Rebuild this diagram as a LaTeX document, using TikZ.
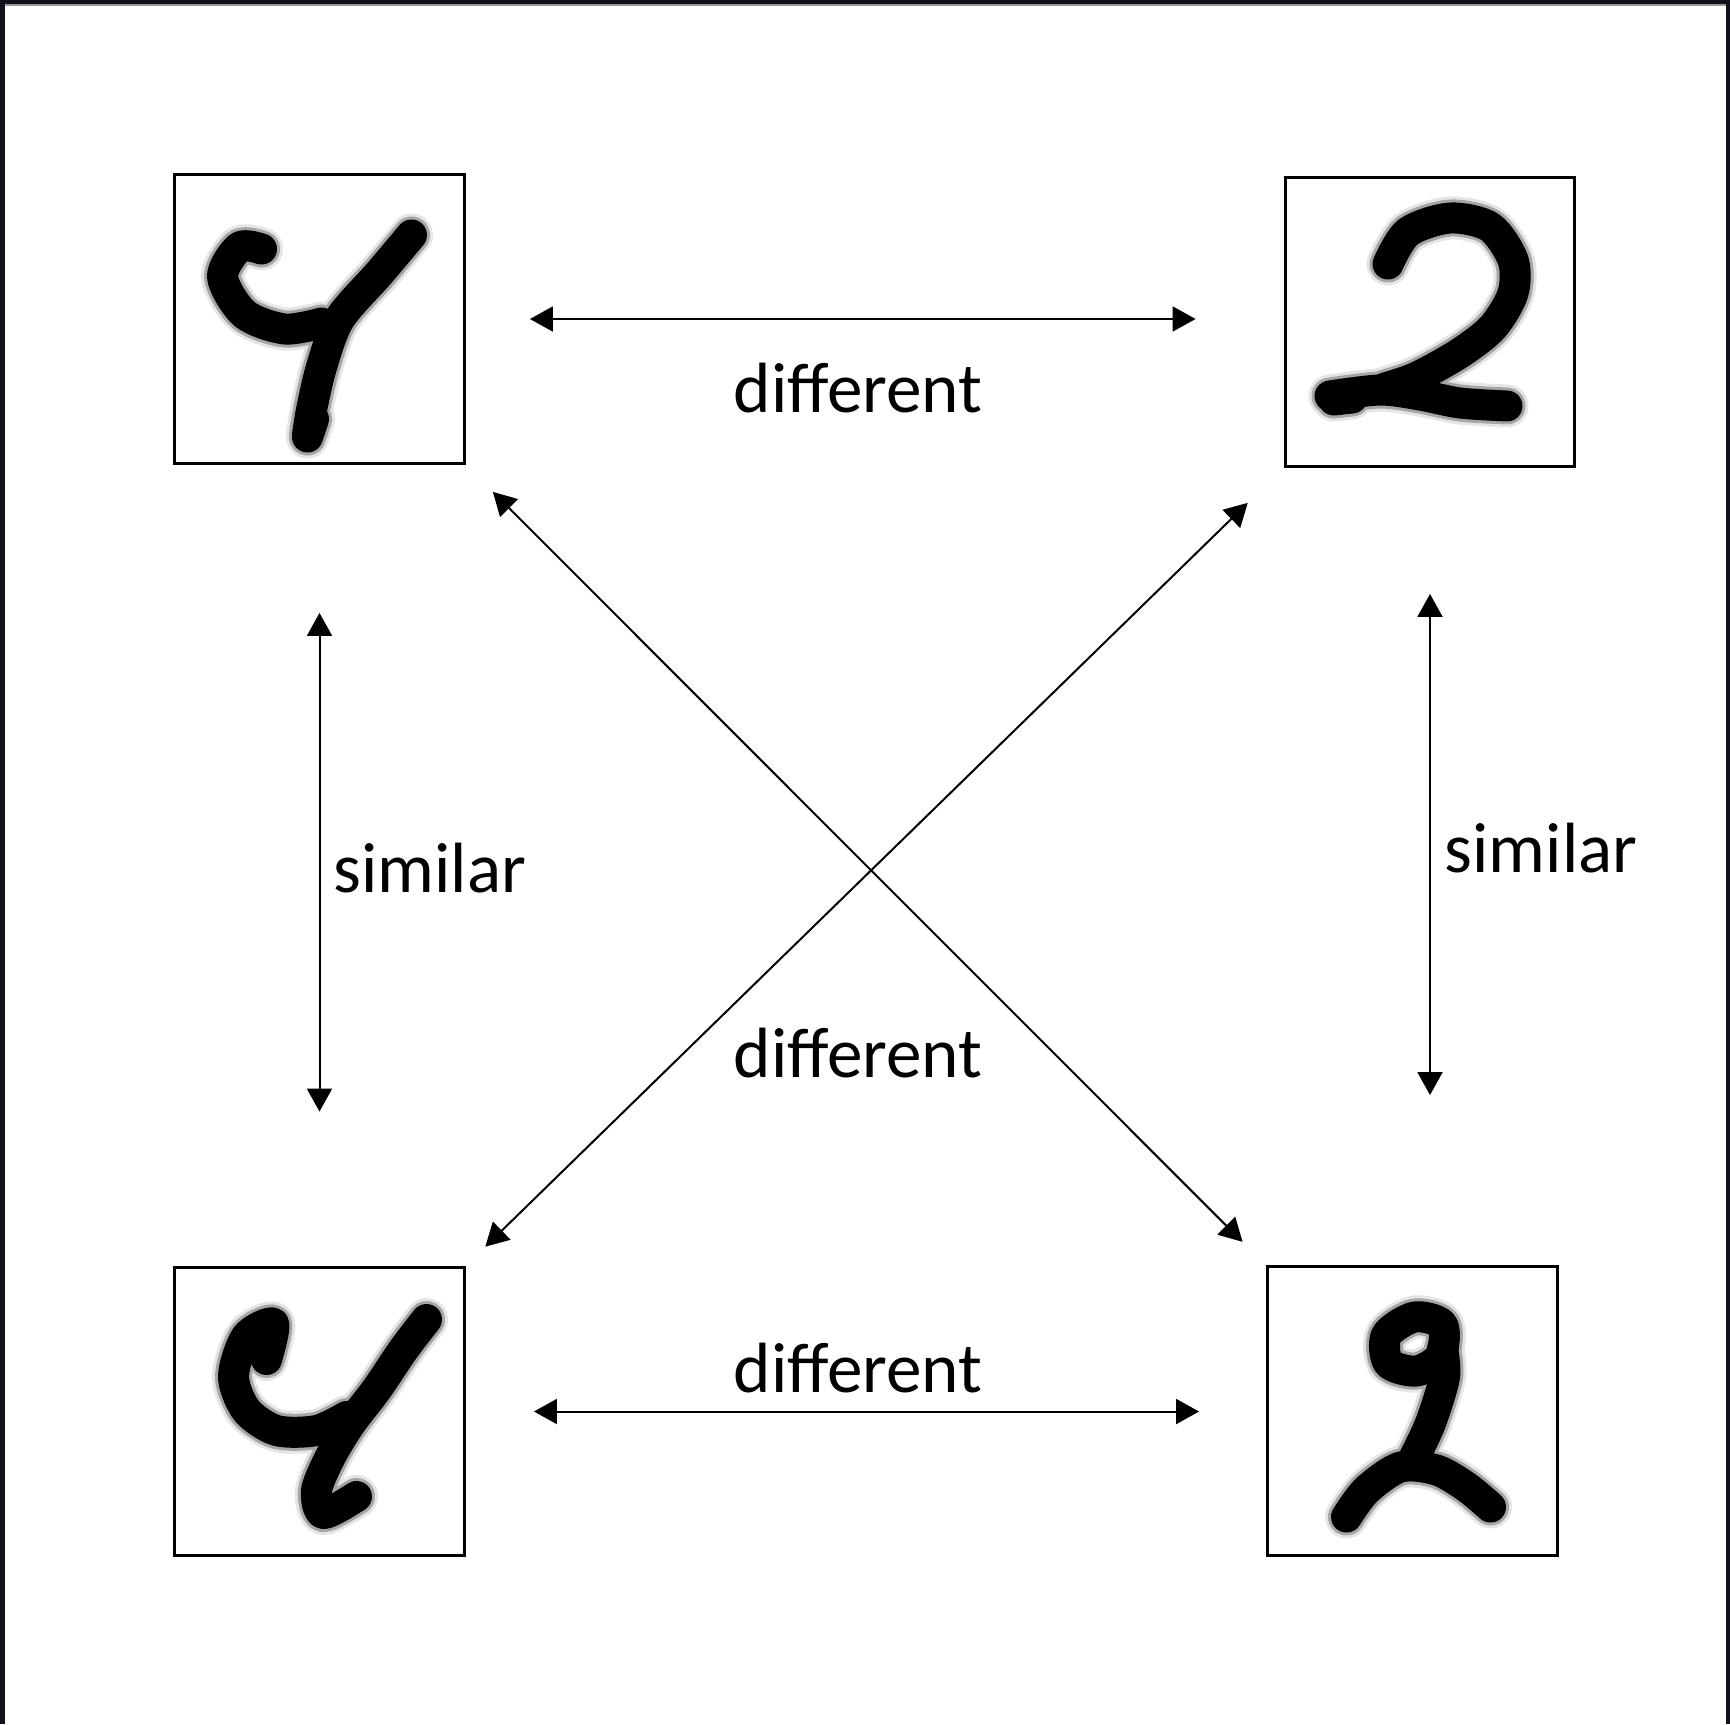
\documentclass[tikz,border=0pt]{standalone}
\usepackage{fontspec}
\setmainfont{Carlito}
\usetikzlibrary{arrows.meta,calc}

\definecolor{framedark}{HTML}{12121C}

\begin{document}
\begin{tikzpicture}[
  x=0.02cm, y=-0.02cm,
  digitbox/.style={draw, line width=0.06cm, minimum width=5.8cm, minimum height=5.78cm, inner sep=0},
  pen/.style={line width=0.62cm, line cap=round, line join=round},
  blurout/.style={line width=0.86cm, line cap=round, line join=round, black!10},
  blurin/.style={line width=0.74cm, line cap=round, line join=round, black!35},
  biarrow/.style={{Triangle[length=0.46cm,width=0.5cm]}-{Triangle[length=0.46cm,width=0.5cm]}, line width=0.04cm},
  lbl/.style={font=\fontsize{40.5}{48}\selectfont, inner sep=0}
]
  \useasboundingbox (0,0) rectangle (1730,1724);
  \fill[white] (0,0) rectangle (1730,1724);
  % screenshot frame
  \fill[framedark] (0,0) rectangle (1730,4);
  \fill[framedark] (0,0) rectangle (5,1724);
  \fill[framedark] (1726,0) rectangle (1730,1724);
  \fill[black!40] (5,4) rectangle (1726,6);

  % digit boxes
  \node[digitbox] (fourA) at (319.5,319) {};
  \node[digitbox] (twoA) at (1430,322) {};
  \node[digitbox] (fourB) at (319.5,1411.5) {};
  \node[digitbox] (twoB) at (1412.5,1411) {};

  % handwritten digits
  \begin{scope}[shift={(fourA.center)}]
    \foreach \s in {blurout,blurin,pen} {
      \draw[\s] plot[smooth] coordinates {(-58,-70) (-80,-72) (-97,-42) (-75,-5) (-35,10) (2,4)};
      \draw[\s] plot[smooth] coordinates {(92,-84) (60,-46) (20,0) (2,48) (-8,91) (-12,116)};
      \draw[\s] (-6,100) -- (-12,118);
    }
  \end{scope}
  \begin{scope}[shift={(twoA.center)}]
    \foreach \s in {blurout,blurin,pen} {
      \draw[\s] plot[smooth] coordinates {(-42,-58) (-22,-90) (20,-104) (60,-95) (83,-62) (83,-29) (63,5) (30,31) (-13,55) (-45,66)};
      \draw[\s] plot[smooth] coordinates {(-100,74) (-50,68) (-10,73) (30,81) (77,84)};
      \draw[\s] (-96,78) -- (-78,76);
    }
  \end{scope}
  \begin{scope}[shift={(fourB.center)}]
    \foreach \s in {blurout,blurin,pen} {
      \draw[\s] plot[smooth] coordinates {(-53,-52) (-46,-88) (-73,-75) (-86,-35) (-73,-1) (-43,19) (-3,19) (27,5)};
      \draw[\s] plot[smooth] coordinates {(107,-92) (84,-62) (57,-22) (31,12) (11,45) (-3,79) (4,102) (37,85)};
    }
  \end{scope}
  \begin{scope}[shift={(twoB.center)}]
    \foreach \s in {blurout,blurin,pen} {
      \draw[\s] plot[smooth cycle] coordinates {(2,-94) (-26,-76) (-24,-48) (4,-40) (28,-55) (30,-86)};
      \draw[\s] plot[smooth] coordinates {(30,-62) (32,-34) (18,12) (2,46)};
      \draw[\s] plot[smooth] coordinates {(-66,106) (-46,79) (-12,56) (24,59) (54,76) (78,96)};
    }
  \end{scope}

  % arrows
  \draw[biarrow, shorten <=1.28cm, shorten >=1.76cm] (fourA.east) -- (fourA.east -| twoA.west);
  \draw[biarrow, shorten <=1.36cm, shorten >=1.34cm] (fourB.east) -- (fourB.east -| twoB.west);
  \draw[biarrow, shorten <=2.96cm, shorten >=3.08cm] (fourA.south) -- (fourB.north);
  \draw[biarrow, shorten <=2.52cm, shorten >=3.4cm] (twoA.south) -- (twoA.south |- twoB.north);
  \draw[biarrow, shorten <=0.76cm, shorten >=0.66cm] (fourA.south east) -- (twoB.north west);
  \draw[biarrow, shorten <=1.0cm, shorten >=0.54cm] (twoA.south west) -- (fourB.north east);

  % labels
  \node[lbl] (diffTop) at (858,388) {different};
  \node[lbl] (diffMid) at (858,1053) {different};
  \node[lbl] (diffBot) at (858,1368) {different};
  \node[lbl] (simLeft) at (430,868) {similar};
  \node[lbl] (simRight) at (1541,848) {similar};
\end{tikzpicture}
\end{document}
